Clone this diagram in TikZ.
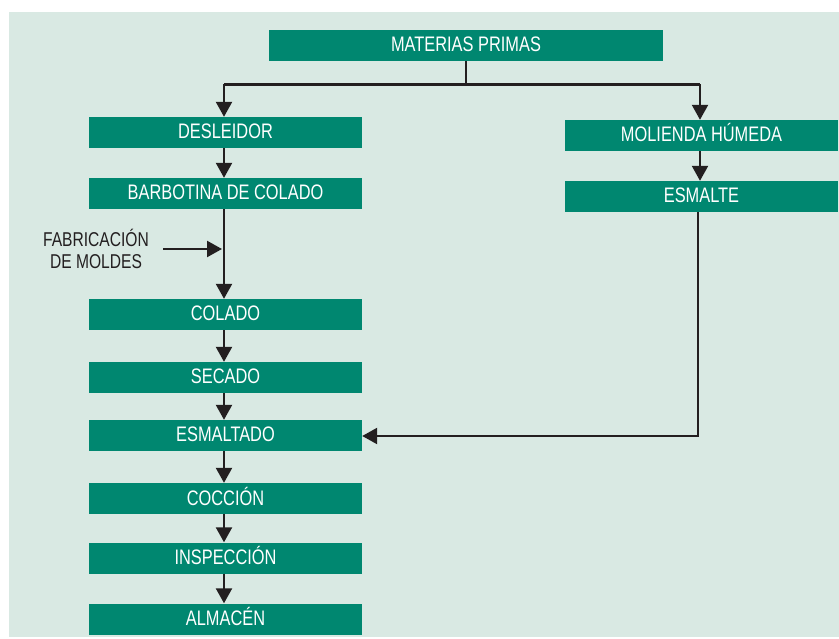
\documentclass[tikz,border=0pt]{standalone}
\usepackage{fontspec}
\setmainfont[FakeStretch=0.78]{Liberation Sans}
\usetikzlibrary{arrows.meta}
\definecolor{bg}{HTML}{D9E9E3}
\definecolor{teal}{HTML}{008770}
\definecolor{ink}{HTML}{231F20}
\tikzset{
  stepbox/.style={fill=teal, text=white, inner sep=0pt, minimum height=31pt,
    text height=14pt, text depth=1pt,
    font=\fontsize{21}{22}\selectfont},
  leftbox/.style={stepbox, minimum width=273pt},
  rightbox/.style={stepbox, minimum width=273pt},
  flow/.style={draw=ink, line width=2.3pt, -{Triangle[width=16pt,length=15pt]}},
  plain/.style={draw=ink, line width=2.3pt},
}
\begin{document}
\begin{tikzpicture}[x=1pt,y=-1pt]
\useasboundingbox (0,0) rectangle (839,639);
\fill[bg] (9,12) rectangle (839,637);
% nodes
\node[stepbox, minimum width=394pt] (mp) at (466,45.5) {MATERIAS PRIMAS};
\node[leftbox] (des) at (225.5,132.5) {DESLEIDOR};
\node[leftbox] (bar) at (225.5,193.5) {BARBOTINA DE COLADO};
\node[leftbox] (col) at (225.5,314.5) {COLADO};
\node[leftbox] (sec) at (225.5,377.5) {SECADO};
\node[leftbox] (esm) at (225.5,435.5) {ESMALTADO};
\node[leftbox] (coc) at (225.5,498.5) {COCCIÓN};
\node[leftbox] (ins) at (225.5,558) {INSPECCIÓN};
\node[leftbox] (alm) at (225.5,619) {ALMACÉN};
\node[rightbox] (mol) at (701.5,135.5) {MOLIENDA HÚMEDA};
\node[rightbox] (esl) at (701.5,196.5) {ESMALTE};
\node[text=ink, align=center, inner sep=0pt, font=\fontsize{20}{22}\selectfont] (fab) at (96,249) {FABRICACIÓN\\DE MOLDES};
% coordinates
\coordinate (split) at (466,84.5);
\coordinate (sl) at (224,84.5);
\coordinate (sr) at (700,84.5);
\coordinate (fabend) at (163,249);
\coordinate (join) at (222,249);
\coordinate (corner) at (698,436);
% connectors
\draw[plain] (mp.south -| split) -- (split);
\draw[plain] (sl) -- (sr);
\draw[flow] (sl) -- (sl |- des.north);
\draw[flow] (sr) -- (sr |- mol.north);
\draw[flow] (des.south -| sl) -- (bar.north -| sl);
\draw[flow] (bar.south -| sl) -- (col.north -| sl);
\draw[flow] (fabend) -- (join);
\draw[flow] (col.south -| sl) -- (sec.north -| sl);
\draw[flow] (sec.south -| sl) -- (esm.north -| sl);
\draw[flow] (esm.south -| sl) -- (coc.north -| sl);
\draw[flow] (coc.south -| sl) -- (ins.north -| sl);
\draw[flow] (ins.south -| sl) -- (alm.north -| sl);
\draw[flow] (mol.south -| sr) -- (esl.north -| sr);
\draw[flow] (esl.south -| corner) -- (corner) -- (esm.east |- corner);
\end{tikzpicture}
\end{document}
